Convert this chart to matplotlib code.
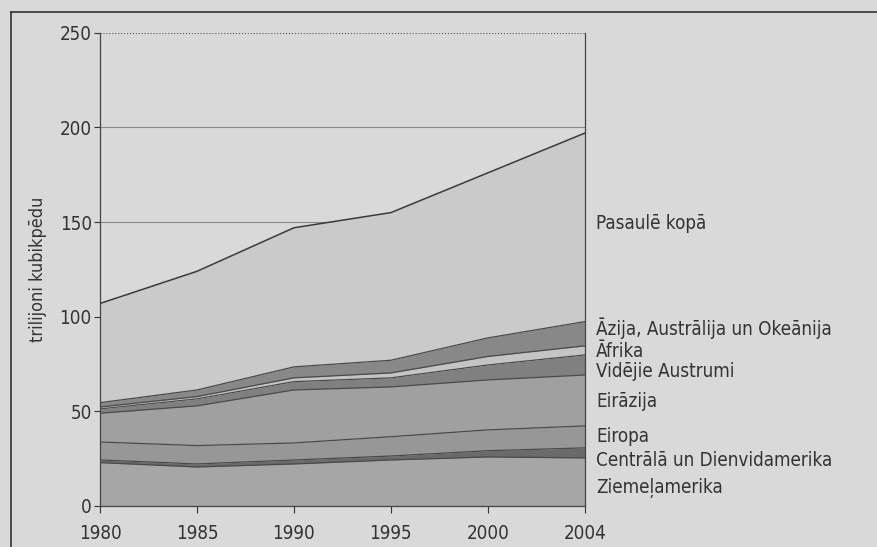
import numpy as np
import matplotlib.pyplot as plt

years = ['1980', '1985', '1990', '1995', '2000', '2004']

ziemelamerika = [22.9, 20.6, 22.2, 24.3, 25.9, 25.4]
centrala_dienvidamerika = [1.4, 1.6, 2.1, 2.1, 3.3, 5.3]
eiropa = [9.5, 9.7, 9.0, 10.2, 11.0, 11.6]
eirazija = [15.2, 21.0, 28.0, 26.3, 26.4, 26.9]
videjie_austrumi = [2.3, 3.7, 4.4, 4.8, 7.9, 10.6]
afrika = [1.0, 1.2, 2.0, 2.6, 4.5, 4.8]
azija_okeanija = [2.3, 3.5, 5.8, 6.7, 9.8, 12.8]
pasaule_kopa = [107, 124, 147, 155, 176, 197]

labels = ['Ziemeļamerika', 'Centrālā un Dienvidamerika', 'Eiropa', 'Eirāzija',
          'Vidējie Austrumi', 'Āfrika', 'Āzija, Austrālija un Okeānija']
colors = ['#a6a6a6', '#6a6a6a', '#979797', '#a0a0a0', '#808080', '#c4c4c4', '#888888']

bg = '#d9d9d9'
plt.rcParams['font.family'] = 'DejaVu Sans'
plt.rcParams['font.stretch'] = 'condensed'

fig = plt.figure(figsize=(8.78, 5.47), dpi=100, facecolor=bg)
ax = fig.add_axes([0.114, 0.075, 0.552, 0.865], facecolor=bg)

x = np.arange(len(years))
series = np.array([ziemelamerika, centrala_dienvidamerika, eiropa, eirazija,
                   videjie_austrumi, afrika, azija_okeanija])
cum = np.cumsum(series, axis=0)

for v in [50, 100, 150, 200]:
    ax.axhline(v, color='#8a8a8a', lw=0.8, zorder=0)
ax.axhline(250, color='#555555', lw=0.8, ls=':', zorder=0)

ax.fill_between(x, cum[-1], pasaule_kopa, color='#cacaca', lw=0, zorder=1)
ax.plot(x, pasaule_kopa, color='#3a3a3a', lw=1.1, zorder=3)
bottom = np.zeros(len(years))
for i in range(len(series)):
    ax.fill_between(x, bottom, cum[i], color=colors[i], lw=0, zorder=2)
    ax.plot(x, cum[i], color='#4a4a4a', lw=0.9, zorder=3)
    bottom = cum[i]

ax.set_xlim(0, len(years) - 1)
ax.set_ylim(0, 250)
ax.set_xticks(x)
ax.set_xticklabels(years, fontsize=13.5, color='#333333')
ax.set_yticks([0, 50, 100, 150, 200, 250])
ax.tick_params(axis='y', labelsize=13.5, colors='#333333', length=4, pad=2)
ax.tick_params(axis='x', length=5, pad=8, colors='#333333')
ax.set_ylabel('trilijoni kubikpēdu', fontsize=13, color='#333333')
ax.yaxis.set_label_coords(-0.11, 0.5)

for s in ['left', 'bottom', 'right']:
    ax.spines[s].set_color('#444444')
    ax.spines[s].set_linewidth(0.9)
ax.spines['top'].set_visible(False)

# labels on the right
label_y = [9.5, 23.8, 36.5, 55, 70.8, 81.4, 94]
for lab, yy in zip(labels, label_y):
    ax.text(1.023, yy, lab, transform=ax.get_yaxis_transform(), fontsize=13.5,
            color='#333333', va='center', ha='left')
ax.text(1.023, 149, 'Pasaulē kopā', transform=ax.get_yaxis_transform(),
        fontsize=13.5, color='#333333', va='center', ha='left')

# outer frame
fig.add_artist(plt.Line2D([0.012, 0.012], [0.0, 0.978], color='#333333', lw=1.2))
fig.add_artist(plt.Line2D([0.012, 1.0], [0.978, 0.978], color='#333333', lw=1.2))

fig.savefig('out.png', dpi=100, facecolor=bg)
